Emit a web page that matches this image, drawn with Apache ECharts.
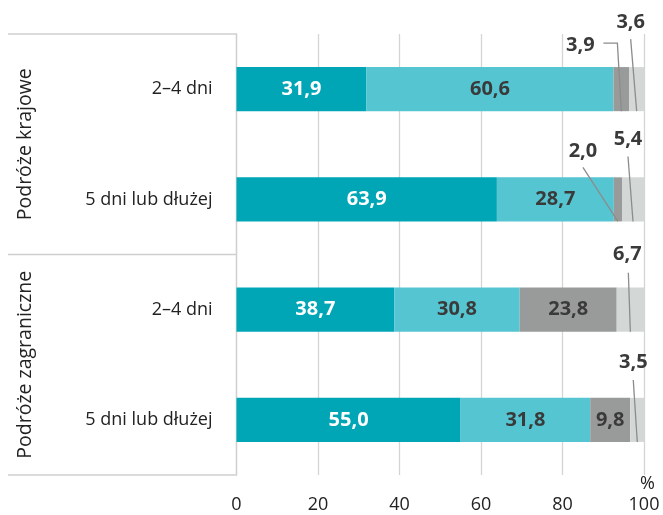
<!DOCTYPE html>
<html>
<head>
<meta charset="utf-8">
<script src="https://cdn.jsdelivr.net/npm/echarts@6/dist/echarts.min.js"></script>
<style>
  html, body { margin: 0; padding: 0; background: #fff; }
  #chart { width: 663px; height: 515px; }
</style>
</head>
<body>
<div id="chart"></div>
<script>
// kategorie (od góry)
const categories = ["2–4 dni", "5 dni lub dłużej", "2–4 dni", "5 dni lub dłużej"];
const groups = ["Podróże krajowe", "Podróże zagraniczne"];
const xTicks = [0, 20, 40, 60, 80, 100];

// wartości w %, kolejne segmenty słupka
const s1 = [31.9, 63.9, 38.7, 55.0];
const s2 = [60.6, 28.7, 30.8, 31.8];
const s3 = [3.9, 2.0, 23.8, 9.8];
const s4 = [3.6, 5.4, 6.7, 3.5];

const seriesValues = [s1, s2, s3, s4];
const colors = ["#00a6b6", "#55c5d2", "#999b9b", "#d3d8d7"];
const labelColors = ["#ffffff", "#3a3a3a", "#3a3a3a", "#3a3a3a"];
const FONT = "'Open Sans', sans-serif";

// odnośniki dla małych wartości: przesunięcie etykiety i linia (px względem dołu segmentu)
const calloutOffsets = {
  "0-2": { label: [-41, -66], line: [[-18, -68], [-4, -68], [0, 0]] },
  "0-3": { label: [-6, -89], line: [[-6, -72], [0, 0]] },
  "1-2": { label: [-35, -70], line: [[-35, -54], [0, 0]] },
  "1-3": { label: [-5, -82], line: [[-5, -65], [0, 0]] },
  "2-3": { label: [-3, -77], line: [[-2, -59], [0, 0]] },
  "3-3": { label: [-4, -80], line: [[-4, -62], [0, 0]] },
};

const fmt = (v) => v.toFixed(1).replace(".", ",");

const gridLeft = 236.5, gridRight = 19, gridTop = 34, gridBottom = 40;
const gridH = 515 - gridTop - gridBottom;

let series = seriesValues.map((vals, si) => ({
  type: "bar",
  stack: "total",
  barWidth: "40%",
  itemStyle: { color: colors[si] },
  data: vals.map((v) => ({
    value: v,
    label: {
      show: v >= 9,
      position: "inside",
      formatter: (p) => fmt(p.value),
      color: labelColors[si],
      fontFamily: FONT,
      fontSize: 20,
      fontWeight: "bold",
    },
  })),
}));

// dane odnośników: [początek, wartość, kategoria, klucz]
let calloutData = [];
categories.forEach((c, ci) => {
  let start = 0;
  seriesValues.forEach((vals, si) => {
    if (vals[ci] < 9) calloutData.push([start, vals[ci], ci, ci + "-" + si]);
    start += vals[ci];
  });
});

series.push({
  type: "custom",
  clip: false,
  z: 10,
  data: calloutData,
  renderItem: function (params, api) {
    const d = calloutData[params.dataIndex];
    const pt = api.coord([d[0] + d[1] / 2, d[2]]);
    const half = api.size([0, 1])[1] * 0.4 / 2;
    const x = pt[0], y = pt[1] + half;
    const off = calloutOffsets[d[3]];
    return {
      type: "group",
      children: [
        {
          type: "polyline",
          shape: { points: off.line.map((p) => [x + p[0], y + p[1]]) },
          style: { stroke: "#8c8c8c", lineWidth: 1.3, fill: null },
        },
        {
          type: "text",
          x: x + off.label[0],
          y: y + off.label[1],
          style: {
            text: fmt(d[1]),
            align: "center",
            verticalAlign: "middle",
            fill: "#3a3a3a",
            font: "bold 20px " + FONT,
          },
        },
      ],
    };
  },
});

const chart = echarts.init(document.getElementById("chart"));
const lineStyle = { stroke: "#cfcfcf", lineWidth: 1.3 };
chart.setOption({
  animation: false,
  grid: {
    left: gridLeft,
    right: gridRight,
    top: gridTop,
    bottom: gridBottom,
    containLabel: false,
    outerBoundsMode: "none",
  },
  xAxis: {
    type: "value",
    min: 0,
    max: 100,
    interval: 20,
    axisLine: { show: false },
    axisTick: { show: false },
    splitLine: { lineStyle: { color: "#d4d4d4", width: 1.3 } },
    axisLabel: {
      margin: 21,
      color: "#222",
      fontFamily: FONT,
      fontSize: 18,
      formatter: (v) => (xTicks.includes(v) ? String(v) : ""),
    },
  },
  yAxis: {
    type: "category",
    inverse: true,
    data: categories,
    axisLine: { show: true, lineStyle: { color: "#cfcfcf", width: 1.3 } },
    axisTick: { show: false },
    axisLabel: { margin: 24, color: "#222", fontFamily: FONT, fontSize: 18 },
  },
  graphic: [
    { type: "line", shape: { x1: 8, y1: gridTop, x2: gridLeft, y2: gridTop }, style: lineStyle },
    { type: "line", shape: { x1: 8, y1: gridTop + gridH / 2, x2: gridLeft, y2: gridTop + gridH / 2 }, style: lineStyle },
    { type: "line", shape: { x1: 8, y1: gridTop + gridH, x2: gridLeft, y2: gridTop + gridH }, style: lineStyle },
    {
      type: "text",
      x: 25,
      y: gridTop + gridH / 4,
      rotation: Math.PI / 2,
      style: { text: groups[0], align: "center", verticalAlign: "middle", fill: "#222", font: "19.5px " + FONT },
    },
    {
      type: "text",
      x: 25,
      y: gridTop + (gridH * 3) / 4,
      rotation: Math.PI / 2,
      style: { text: groups[1], align: "center", verticalAlign: "middle", fill: "#222", font: "19.5px " + FONT },
    },
    {
      type: "text",
      right: 8,
      top: 475,
      style: { text: "%", fill: "#222", font: "18px " + FONT },
    },
  ],
  series: series,
});
</script>
</body>
</html>
